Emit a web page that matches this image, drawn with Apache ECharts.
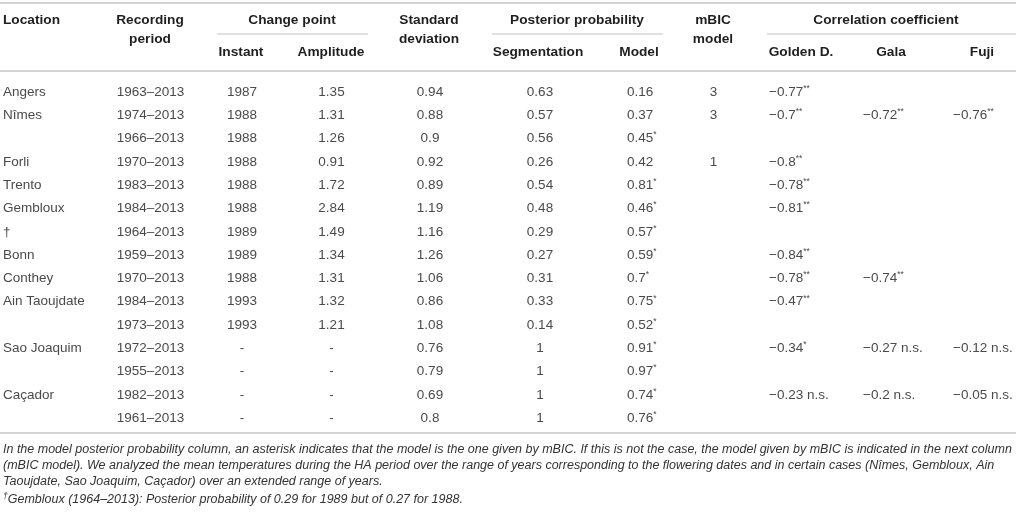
<!DOCTYPE html>
<html><head><meta charset="utf-8">
<script src="https://cdn.jsdelivr.net/npm/echarts@6/dist/echarts.min.js"></script>
<style>html,body{margin:0;padding:0;background:#fff}#c{width:1016px;height:517px}</style>
</head><body><div id="c"></div>
<script>
// ---- data ----
const locations = ['Angers','Nîmes','','Forli','Trento','Gembloux','†','Bonn','Conthey','Ain Taoujdate','','Sao Joaquim','','Caçador',''];
const periods = ['1963–2013','1974–2013','1966–2013','1970–2013','1983–2013','1984–2013','1964–2013','1959–2013','1970–2013','1984–2013','1973–2013','1972–2013','1955–2013','1982–2013','1961–2013'];
const instant = ['1987','1988','1988','1988','1988','1988','1989','1989','1988','1993','1993','-','-','-','-'];
const amplitude = ['1.35','1.31','1.26','0.91','1.72','2.84','1.49','1.34','1.31','1.32','1.21','-','-','-','-'];
const stdDev = ['0.94','0.88','0.9','0.92','0.89','1.19','1.16','1.26','1.06','0.86','1.08','0.76','0.79','0.69','0.8'];
const segmentation = ['0.63','0.57','0.56','0.26','0.54','0.48','0.29','0.27','0.31','0.33','0.14','1','1','1','1'];
const modelProb = ['0.16','0.37','0.45*','0.42','0.81*','0.46*','0.57*','0.59*','0.7*','0.75*','0.52*','0.91*','0.97*','0.74*','0.76*'];
const mbicModel = ['3','3','','1','','','','','','','','','','',''];
const goldenD = ['−0.77**','−0.7**','','−0.8**','−0.78**','−0.81**','','−0.84**','−0.78**','−0.47**','','−0.34*','','−0.23 n.s.',''];
const gala = ['','−0.72**','','','','','','','−0.74**','','','−0.27 n.s.','','−0.2 n.s.',''];
const fuji = ['','−0.76**','','','','','','','','','','−0.12 n.s.','','−0.05 n.s.',''];
const footnotes = [
  'In the model posterior probability column, an asterisk indicates that the model is the one given by mBIC. If this is not the case, the model given by mBIC is indicated in the next column',
  '(mBIC model). We analyzed the mean temperatures during the HA period over the range of years corresponding to the flowering dates and in certain cases (Nîmes, Gembloux, Ain',
  'Taoujdate, Sao Joaquim, Caçador) over an extended range of years.',
  'Gembloux (1964–2013): Posterior probability of 0.29 for 1989 but of 0.27 for 1988.'
];

// ---- layout ----
const columns = [
  {vals: locations, x: 3, align: 'left'},
  {vals: periods, x: 150.5, align: 'center'},
  {vals: instant, x: 242, align: 'center'},
  {vals: amplitude, x: 331.5, align: 'center'},
  {vals: stdDev, x: 430, align: 'center'},
  {vals: segmentation, x: 540, align: 'center'},
  {vals: modelProb, x: 627, align: 'left'},
  {vals: mbicModel, x: 713.5, align: 'center'},
  {vals: goldenD, x: 769, align: 'left'},
  {vals: gala, x: 863, align: 'left'},
  {vals: fuji, x: 953, align: 'left'}
];
const FONT = 'Liberation Sans, Arial, sans-serif';
const DATA_COLOR = '#4a4a4a';
const HEAD_COLOR = '#1f1f1f';
const RULE = '#c4c4c4';

function toRich(t){
  const m = t.match(/^(.*?)(\*+)$/);
  if (m) return '{v|' + m[1] + '}{s|' + m[2] + '}';
  return '{v|' + t + '}';
}
const rich = {
  v: {fontFamily: FONT, fontSize: 13.5, fill: DATA_COLOR, lineHeight: 16},
  s: {fontFamily: FONT, fontSize: 8.5, fill: DATA_COLOR, lineHeight: 9, verticalAlign: 'top'}
};

const rowIdx = periods.map((_, i) => i);
const series = columns.map(col => ({
  type: 'custom',
  coordinateSystem: 'cartesian2d',
  silent: true,
  clip: false,
  data: rowIdx.map(i => [col.x, i]),
  encode: {x: 0, y: 1},
  renderItem: function(params, api){
    const t = col.vals[params.dataIndex];
    if (!t) return null;
    const p = api.coord([api.value(0), api.value(1)]);
    return {
      type: 'text', x: p[0], y: p[1],
      style: {text: toRich(t), rich: rich, align: col.align, verticalAlign: 'middle',
              fontFamily: FONT, fontSize: 13.5, fill: DATA_COLOR}
    };
  }
}));

function head(text, x, y, align){
  return {type: 'text', x: x, y: y, style: {text: text, fontFamily: FONT, fontWeight: 'bold', fontSize: 13.7,
    fill: HEAD_COLOR, align: align || 'center', verticalAlign: 'middle'}};
}
function rule(x1, y, x2, w){
  return {type: 'line', shape: {x1: x1, y1: y, x2: x2, y2: y}, style: {stroke: RULE, lineWidth: w || 1.5}};
}
const graphics = [
  rule(0, 3, 1016), rule(0, 71, 1016), rule(0, 433, 1016),
  rule(217, 34, 368, 1.2), rule(492, 34, 663, 1.2), rule(767, 34, 1016, 1.2),
  head('Location', 3, 20, 'left'),
  head('Recording', 150, 20), head('period', 150, 39),
  head('Change point', 292, 20), head('Instant', 241, 52), head('Amplitude', 331, 52),
  head('Standard', 429, 20), head('deviation', 429, 39),
  head('Posterior probability', 577, 20), head('Segmentation', 538, 52), head('Model', 639, 52),
  head('mBIC', 713, 20), head('model', 713, 39),
  head('Correlation coefficient', 886, 20), head('Golden D.', 801, 52), head('Gala', 891, 52), head('Fuji', 982, 52)
];
const footY = [449.5, 465.5, 481.5, 499.5];
footnotes.forEach((t, i) => {
  const txt = i === 3 ? '{d|†}{f|' + t + '}' : '{f|' + t + '}';
  graphics.push({type: 'text', x: 3, y: footY[i], style: {text: txt, align: 'left', verticalAlign: 'middle',
    rich: {
      f: {fontFamily: FONT, fontStyle: 'italic', fontSize: 12.5, fill: '#333', lineHeight: 15},
      d: {fontFamily: FONT, fontStyle: 'italic', fontSize: 8.5, fill: '#333', lineHeight: 8, verticalAlign: 'top'}
    }}});
});

const chart = echarts.init(document.getElementById('c'), null, {renderer: 'canvas'});
chart.setOption({
  animation: false,
  grid: {left: 0, right: 0, top: 80.35, height: 349.5},
  xAxis: {type: 'value', min: 0, max: 1016, show: false},
  yAxis: {type: 'category', data: rowIdx.map(String), inverse: true, show: false},
  graphic: graphics,
  series: series
});
</script></body></html>
